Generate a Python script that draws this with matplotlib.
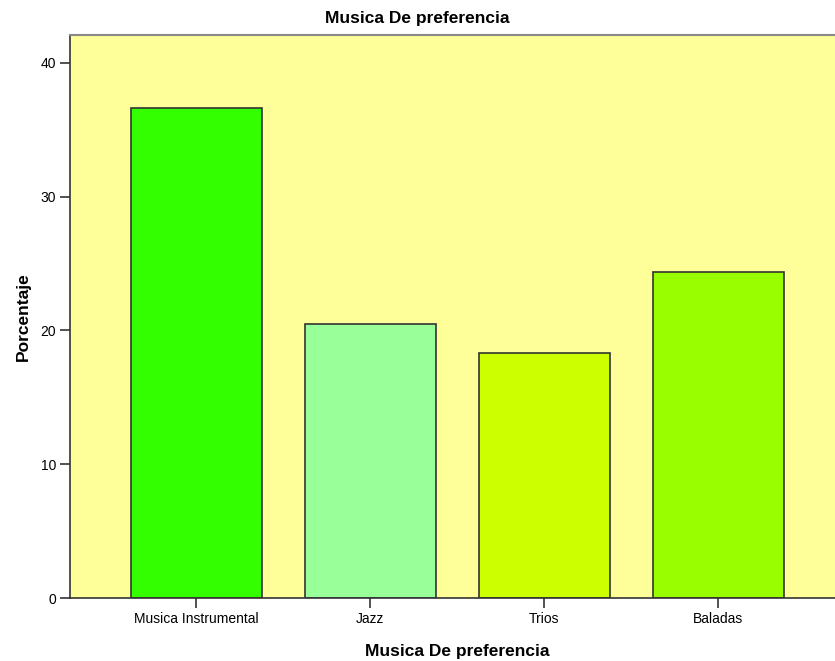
import numpy as np
import matplotlib.pyplot as plt

plt.rcParams["font.family"] = ["Liberation Sans", "DejaVu Sans"]

categories = ["Musica Instrumental", "Jazz", "Trios", "Baladas"]
porcentaje = [36.6, 20.5, 18.3, 24.4]
bar_colors = ["#33ff00", "#99ff99", "#ccff00", "#99ff00"]

fig = plt.figure(figsize=(8.35, 6.61), dpi=100)
ax = fig.add_axes([0.0838, 0.0953, 0.928, 0.852])
ax.set_facecolor("#ffff99")

pos = np.arange(len(categories))
ax.bar(pos, porcentaje, width=0.75, color=bar_colors, edgecolor="#333333", linewidth=1.2)

ax.set_xlim(-0.727, len(categories) - 1 + 0.727)
ax.set_ylim(0, 42.1)
ax.set_yticks([0, 10, 20, 30, 40])
ax.set_xticks(pos)
ax.set_xticklabels(categories)
ax.tick_params(axis="both", labelsize=10, length=7, width=1.2, color="#333333", pad=3)

for side in ["left", "bottom"]:
    ax.spines[side].set_color("#333333")
    ax.spines[side].set_linewidth(1.2)
ax.spines["top"].set_color("#888888")
ax.spines["top"].set_linewidth(1.5)
ax.spines["right"].set_visible(False)

ax.set_xlabel("Musica De preferencia", fontsize=12.5, fontweight="bold", labelpad=13)
ax.set_ylabel("Porcentaje", fontsize=12.5, fontweight="bold", labelpad=7)
fig.text(0.5, 0.972, "Musica De preferencia", ha="center", va="center",
         fontsize=12.5, fontweight="bold")

fig.savefig("out.png", dpi=100)
